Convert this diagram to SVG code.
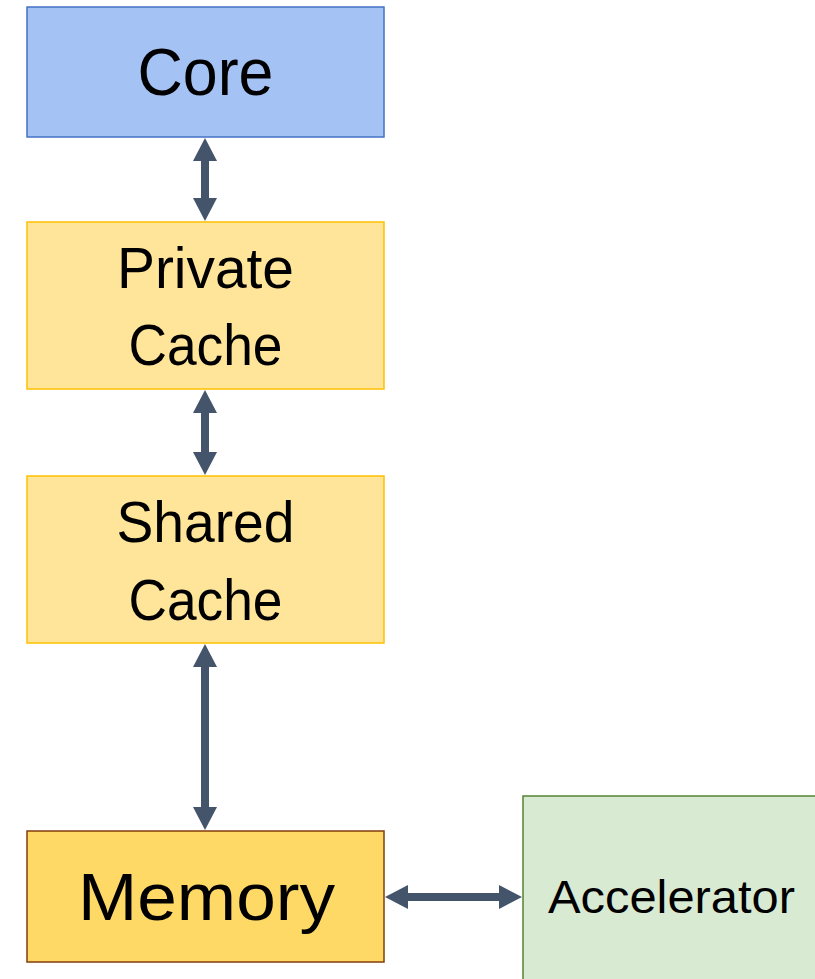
<svg xmlns="http://www.w3.org/2000/svg" width="815" height="979" viewBox="0 0 815 979">
<defs>
<style>
.lbl{font-family:"Liberation Sans",Arial,sans-serif;fill:#000;text-anchor:middle}
.conn{stroke:#44546a;stroke-width:8;fill:none;marker-start:url(#ah);marker-end:url(#ah)}
</style>
<marker id="ah" markerUnits="userSpaceOnUse" markerWidth="24" markerHeight="24" refX="3" refY="12" orient="auto-start-reverse" viewBox="0 0 24 24">
<path d="M0,0 L23,12 L0,24 z" fill="#44546a"/>
</marker>
</defs>
<rect width="815" height="979" fill="#fff"/>
<g id="core">
<rect x="27" y="7" width="357" height="130" fill="#a4c2f4" stroke="#4472c4" stroke-width="1.5"/>
<text class="lbl" x="205.5" y="95" font-size="66" textLength="136" lengthAdjust="spacingAndGlyphs">Core</text>
</g>
<g id="private-cache">
<rect x="27" y="222" width="357" height="167" fill="#ffe599" stroke="#ffc000" stroke-width="1.5"/>
<text class="lbl" x="205.5" y="288" font-size="57" textLength="177" lengthAdjust="spacingAndGlyphs">Private</text>
<text class="lbl" x="205.5" y="365" font-size="57" textLength="154" lengthAdjust="spacingAndGlyphs">Cache</text>
</g>
<g id="shared-cache">
<rect x="27" y="476" width="357" height="167" fill="#ffe599" stroke="#ffc000" stroke-width="1.5"/>
<text class="lbl" x="205.5" y="542" font-size="57" textLength="178" lengthAdjust="spacingAndGlyphs">Shared</text>
<text class="lbl" x="205.5" y="620" font-size="57" textLength="154" lengthAdjust="spacingAndGlyphs">Cache</text>
</g>
<g id="memory">
<rect x="27" y="831" width="357" height="131" fill="#ffd966" stroke="#843c0c" stroke-width="1.5"/>
<text class="lbl" x="206.5" y="920" font-size="66" textLength="257" lengthAdjust="spacingAndGlyphs">Memory</text>
</g>
<g id="accelerator">
<rect x="523" y="796" width="300" height="200" fill="#d9ead3" stroke="#548235" stroke-width="1.5"/>
<text class="lbl" x="671.5" y="913" font-size="46" textLength="247" lengthAdjust="spacingAndGlyphs">Accelerator</text>
</g>
<g id="connectors">
<line class="conn" x1="205" y1="158" x2="205" y2="201"/>
<line class="conn" x1="205" y1="410" x2="205" y2="455"/>
<line class="conn" x1="205" y1="664" x2="205" y2="810"/>
<line class="conn" x1="405" y1="897" x2="502" y2="897"/>
</g>
</svg>
